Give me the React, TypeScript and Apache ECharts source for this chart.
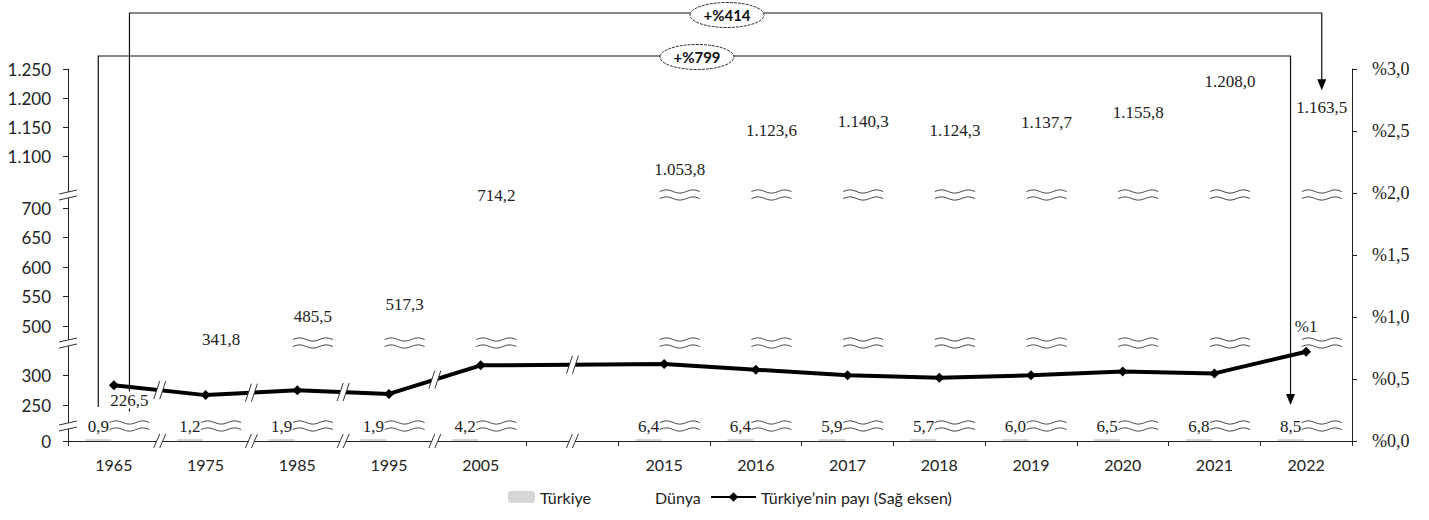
import { useEffect, useRef } from 'react';
import * as echarts from 'echarts';

// ---------- data ----------
const CATEGORIES = ['1965', '1975', '1985', '1995', '2005', '', '2015', '2016', '2017', '2018', '2019', '2020', '2021', '2022'];
const TURKIYE = [0.9, 1.2, 1.9, 1.9, 4.2, null, 6.4, 6.4, 5.9, 5.7, 6.0, 6.5, 6.8, 8.5];
const DUNYA = [226.5, 341.8, 485.5, 517.3, 714.2, null, 1053.8, 1123.6, 1140.3, 1124.3, 1137.7, 1155.8, 1208.0, 1163.5];
const SHARE = [0.45, 0.37, 0.41, 0.38, 0.61, null, 0.62, 0.575, 0.53, 0.51, 0.53, 0.56, 0.545, 0.72];
const LEFT_TICKS = [0, 250, 300, 500, 550, 600, 650, 700, 1100, 1150, 1200, 1250];
const RIGHT_MAX = 3;
const RIGHT_STEP = 0.5;
const GROWTH_DUNYA = '+%414';
const GROWTH_TURKIYE = '+%799';
const NAME_T = 'Türkiye';
const NAME_D = 'Dünya';
const NAME_S = 'Türkiye’nin payı (Sağ eksen)';

// broken left axis: value -> compressed axis units
const SCALE_KNOTS: [number, number][] = [
  [0, 0], [200, 22], [250, 36], [300, 66], [340, 90], [500, 115],
  [700, 233], [1050, 258], [1100, 285], [1250, 372],
];
const AXIS_BREAKS = [15, 98, 246]; // in axis units
const X_BREAKS = [0.5, 1.5, 2.5, 3.5, 5];

function toV(v: number): number {
  for (let i = 1; i < SCALE_KNOTS.length; i++) {
    const [a0, b0] = SCALE_KNOTS[i - 1];
    const [a1, b1] = SCALE_KNOTS[i];
    if (v <= a1) return b0 + ((v - a0) / (a1 - a0)) * (b1 - b0);
  }
  return SCALE_KNOTS[SCALE_KNOTS.length - 1][1];
}
const thousands = (s: string) => s.replace(/\B(?=(\d{3})+(?!\d))/g, '.');
function fmt1(v: number): string {
  const [i, d] = v.toFixed(1).split('.');
  return thousands(i) + ',' + d;
}

const SERIF = '"Liberation Serif", "Times New Roman", serif';
const SANS = 'Lato, "Open Sans", sans-serif';
const INK = '#222';

export default function App() {
  const ref = useRef<HTMLDivElement>(null);
  useEffect(() => {
    if (!ref.current) return;
    const chart = echarts.init(ref.current, undefined, { renderer: 'svg' });
    const last = CATEGORIES.length - 1;
    const tickUnits = LEFT_TICKS.map(toV);

    const option: any = {
      animation: false,
      backgroundColor: '#fff',
      grid: { left: 68, right: 77, top: 69, bottom: 79 },
      legend: [
        { data: [NAME_T], left: 503, top: 484, itemWidth: 27, itemHeight: 12, textStyle: { fontFamily: SANS, fontSize: 16, color: INK } },
        { data: [NAME_D], left: 618, top: 484, itemWidth: 27, itemHeight: 12, textStyle: { fontFamily: SANS, fontSize: 16, color: INK } },
        { data: [NAME_S], left: 705, top: 484, itemWidth: 45, itemHeight: 12, textStyle: { fontFamily: SANS, fontSize: 16, color: INK } },
      ],
      xAxis: {
        type: 'category',
        data: CATEGORIES,
        axisLine: { lineStyle: { color: INK, width: 1 } },
        axisTick: { show: true, length: 5, lineStyle: { color: INK } },
        axisLabel: { fontFamily: SANS, fontSize: 16, color: INK, margin: 15 },
      },
      yAxis: [
        {
          type: 'value', min: 0, max: 372, position: 'left',
          splitLine: { show: false },
          axisLine: { show: true, lineStyle: { color: INK } },
          axisTick: { show: true, length: 5, customValues: tickUnits, lineStyle: { color: INK } },
          axisLabel: {
            customValues: tickUnits,
            fontFamily: SANS, fontSize: 17, color: INK, margin: 17,
            formatter: (val: number) => {
              const idx = tickUnits.findIndex((u) => Math.abs(u - val) < 0.01);
              return idx >= 0 ? thousands(String(LEFT_TICKS[idx])) : '';
            },
          },
        },
        {
          type: 'value', min: 0, max: RIGHT_MAX, interval: RIGHT_STEP, position: 'right',
          splitLine: { show: false },
          axisLine: { show: true, lineStyle: { color: INK } },
          axisTick: { show: true, length: 5, lineStyle: { color: INK } },
          axisLabel: {
            fontFamily: SERIF, fontSize: 18, color: INK, margin: 20,
            formatter: (v: number) => '%' + v.toFixed(1).replace('.', ','),
          },
        },
      ],
      series: [
        {
          name: NAME_T, type: 'bar', barWidth: 26, barGap: '20%', barMinHeight: 2,
          data: TURKIYE.map((v) => (v == null ? '-' : toV(v))),
          itemStyle: { color: '#d6d6d6' },
          label: {
            show: true, position: 'top', distance: 4,
            fontFamily: SERIF, fontSize: 17, color: INK,
            formatter: (p: any) => (TURKIYE[p.dataIndex] == null ? '' : fmt1(TURKIYE[p.dataIndex] as number)),
          },
        },
        {
          name: NAME_D, type: 'bar', barWidth: 26,
          data: DUNYA.map((v) => (v == null ? '-' : toV(v))),
          itemStyle: { color: 'rgba(255,255,255,0)' },
          label: {
            show: true, position: 'top', distance: 3,
            fontFamily: SERIF, fontSize: 17, color: INK, backgroundColor: '#fff', padding: [0, 1],
            formatter: (p: any) => (DUNYA[p.dataIndex] == null ? '' : fmt1(DUNYA[p.dataIndex] as number)),
          },
        },
        {
          name: NAME_S, type: 'line', yAxisIndex: 1, connectNulls: true,
          symbol: 'diamond', symbolSize: 10,
          lineStyle: { color: '#000', width: 4 },
          itemStyle: { color: '#000' },
          data: SHARE.map((v, i) =>
            v == null ? '-' : i === last
              ? { value: v, label: { show: true, position: 'top', distance: 12, fontFamily: SERIF, fontSize: 17, color: INK, backgroundColor: '#fff', formatter: (p: any) => '%' + Math.round(p.value) } }
              : v),
        },
      ],
    };
    chart.setOption(option);

    // ---------- annotations computed from the axes ----------
    const p0 = (i: number, v: number) => chart.convertToPixel({ xAxisIndex: 0, yAxisIndex: 0 }, [i, v]) as number[];
    const p1 = (i: number, v: number) => chart.convertToPixel({ xAxisIndex: 0, yAxisIndex: 1 }, [i, v]) as number[];
    const cx = (i: number) => p0(i, 0)[0];
    const half = (26 * 1.2) / 2;
    const xT = (i: number) => cx(i) - half;
    const xD = (i: number) => cx(i) + half;
    const yU = (u: number) => p0(0, u)[1];
    const axisY = yU(0);
    const gridLeft = 68;

    const g: any[] = [];
    const stroke = '#333';
    const vBreak = (x: number, y: number, h: number) => {
      g.push({ type: 'polygon', z: 20, shape: { points: [[x - 6, y + h / 2], [x, y - h / 2], [x + 6, y - h / 2], [x, y + h / 2]] }, style: { fill: '#fff' } });
      for (const dx of [-3, 3]) {
        g.push({ type: 'line', z: 21, shape: { x1: x + dx - 3, y1: y + h / 2, x2: x + dx + 3, y2: y - h / 2 }, style: { stroke, lineWidth: 1 } });
      }
    };
    const hBreak = (x: number, y: number) => {
      g.push({ type: 'polygon', z: 20, shape: { points: [[x - 9, y - 1], [x + 9, y - 5], [x + 9, y + 1], [x - 9, y + 5]] }, style: { fill: '#fff' } });
      for (const dy of [-3, 3]) {
        g.push({ type: 'line', z: 21, shape: { x1: x - 9, y1: y + 2 + dy, x2: x + 9, y2: y - 2 + dy }, style: { stroke, lineWidth: 1 } });
      }
    };
    const wave = (x: number, y: number) => {
      for (const off of [-3.5, 3.5]) {
        const pts: number[][] = [];
        for (let t = 0; t <= 20; t++) pts.push([x - 20 + t * 2, y + off - 1.6 * Math.sin((t / 20) * 3 * Math.PI)]);
        g.push({ type: 'polyline', z: 15, shape: { points: pts }, style: { stroke: '#444', lineWidth: 1, fill: null } });
      }
    };

    AXIS_BREAKS.forEach((u) => hBreak(gridLeft, yU(u)));
    X_BREAKS.forEach((b) => {
      const i0 = Math.floor(b);
      let xa: number, ya: number;
      if (Number.isInteger(b)) {
        const a = p1(b - 1, SHARE[b - 1] as number);
        const c = p1(b + 1, SHARE[b + 1] as number);
        xa = cx(b); ya = (a[1] + c[1]) / 2;
      } else {
        const a = p1(i0, SHARE[i0] as number);
        const c = p1(i0 + 1, SHARE[i0 + 1] as number);
        xa = (a[0] + c[0]) / 2; ya = (a[1] + c[1]) / 2;
      }
      vBreak(xa, axisY, 14);
      vBreak(xa, ya, 18);
    });
    DUNYA.forEach((v, i) => {
      if (v == null) return;
      AXIS_BREAKS.forEach((u) => { if (toV(v) > u + 4) wave(xD(i), yU(u)); });
    });

    const top414 = 13, top799 = 56;
    const dFirst = yU(toV(DUNYA[0] as number));
    const dLast = yU(toV(DUNYA[last] as number));
    const tFirst = yU(toV(TURKIYE[0] as number)) - 2;
    const tLast = yU(toV(TURKIYE[last] as number)) - 2;
    const arrow = (x: number, tip: number) => g.push({ type: 'polygon', z: 5, shape: { points: [[x - 4.5, tip - 11], [x + 4.5, tip - 11], [x, tip]] }, style: { fill: '#000' } });

    const tip414 = dLast - 29;
    g.push({ type: 'polyline', z: 1, shape: { points: [[xD(0), dFirst], [xD(0), top414], [xD(last), top414], [xD(last), tip414 - 8]] }, style: { stroke: '#111', lineWidth: 1.2, fill: null } });
    arrow(xD(last), tip414);
    const tip799 = tLast - 33;
    g.push({ type: 'polyline', z: 1, shape: { points: [[xT(0), tFirst - 32], [xT(0), top799], [xT(last), top799], [xT(last), tip799 - 8]] }, style: { stroke: '#111', lineWidth: 1.2, fill: null } });
    arrow(xT(last), tip799);

    const badge = (x: number, y: number, text: string) => {
      g.push({ type: 'ellipse', z: 30, shape: { cx: x, cy: y, rx: 37, ry: 12.5 }, style: { fill: '#fff', stroke: '#333', lineWidth: 1, lineDash: [3, 1] } });
      g.push({ type: 'text', z: 31, style: { text, x, y, align: 'center', verticalAlign: 'middle', font: `bold 15px ${SANS}`, fill: '#111' } });
    };
    badge(727, top414 + 2, GROWTH_DUNYA);
    badge(697, top799 + 1, GROWTH_TURKIYE);

    chart.setOption({ graphic: { elements: g } });

    return () => chart.dispose();
  }, []);

  return <div ref={ref} style={{ position: 'fixed', left: 0, top: 0, width: 1429, height: 520, background: '#fff' }} />;
}
